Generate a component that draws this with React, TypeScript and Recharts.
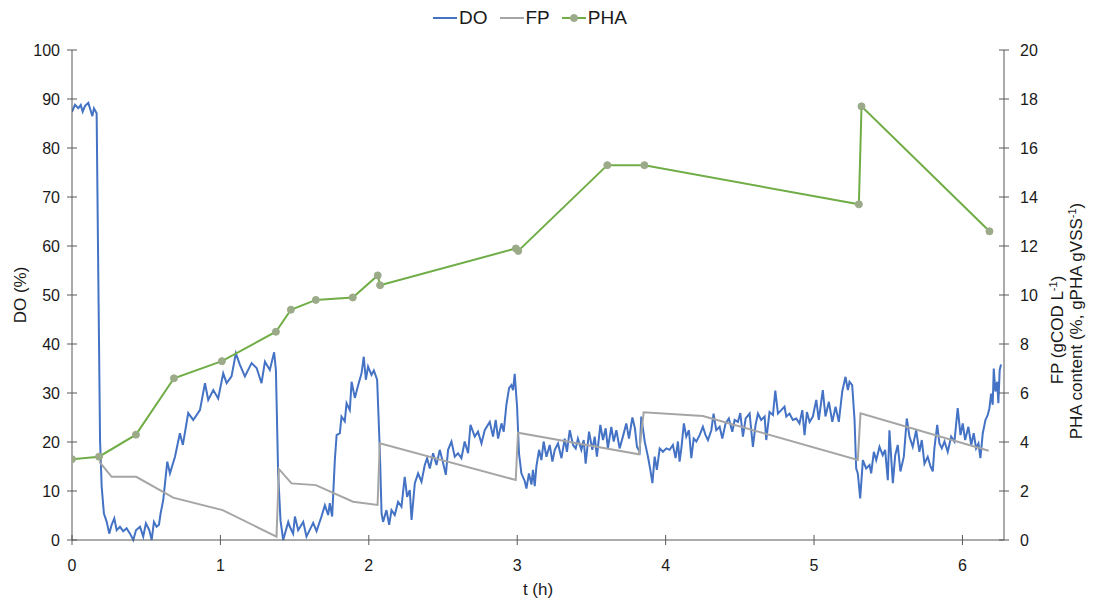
import { ComposedChart, Line, XAxis, YAxis } from "recharts";

// DO (%) readings: [t (h), DO]
const doReadings: [number, number][] = [
  [0, 87.4], [0.02, 88.8], [0.042, 88.1], [0.059, 88.8], [0.072, 87.4], [0.088, 88.6], [0.11, 89.2],
  [0.121, 88.1], [0.137, 86.5], [0.148, 88.1], [0.166, 87.1], [0.177, 54.5], [0.189, 20.4], [0.2, 10.9],
  [0.215, 5.4], [0.234, 3.7], [0.251, 1.3], [0.267, 3.1], [0.285, 4.4], [0.301, 2.0], [0.323, 2.7],
  [0.345, 1.8], [0.368, 2.4], [0.391, 1.3], [0.413, 0], [0.431, 2.0], [0.458, 2.7], [0.48, 0.7],
  [0.498, 3.4], [0.521, 2.0], [0.537, 0], [0.552, 3.7], [0.57, 2.7], [0.586, 3.1], [0.597, 5.4],
  [0.615, 8.2], [0.642, 16], [0.66, 13.6], [0.694, 17], [0.727, 21.8], [0.747, 19.4], [0.783, 25.9],
  [0.817, 24.5], [0.862, 26.5], [0.896, 32], [0.918, 28.6], [0.952, 30.6], [0.985, 28.9], [1.019, 34],
  [1.042, 32], [1.075, 33.4], [1.104, 38.1], [1.131, 35.8], [1.165, 33.4], [1.21, 36.1], [1.244, 35.1],
  [1.277, 32], [1.3, 36.4], [1.333, 34.7], [1.362, 38.3], [1.374, 34.7], [1.389, 13.6], [1.405, 4],
  [1.423, 0], [1.457, 3.7], [1.468, 2.7], [1.49, 1.3], [1.502, 4.8], [1.524, 2], [1.558, 3.7],
  [1.58, 0.7], [1.625, 3.5], [1.648, 1.8], [1.681, 4.8], [1.704, 7.1], [1.726, 5.1], [1.737, 7.5],
  [1.753, 4.8], [1.771, 16.3], [1.783, 21.4], [1.805, 21.8], [1.816, 25.2], [1.838, 24.2], [1.85, 27.9],
  [1.872, 26.5], [1.884, 32.3], [1.906, 29], [1.928, 31.6], [1.951, 34], [1.966, 37.4], [1.98, 32.7],
  [1.995, 35.4], [2.018, 33.7], [2.034, 34.6], [2.056, 32.7], [2.074, 18.4], [2.086, 5.4], [2.096, 3.7],
  [2.119, 6.1], [2.137, 3.1], [2.153, 6.1], [2.175, 5.1], [2.197, 7.8], [2.22, 6.8], [2.242, 12.9],
  [2.258, 8.8], [2.276, 10.2], [2.288, 4.1], [2.31, 11.6], [2.332, 13.6], [2.355, 11.9], [2.377, 15.3],
  [2.393, 16.7], [2.411, 14.6], [2.433, 17.7], [2.456, 15.3], [2.478, 18.4], [2.496, 16.3], [2.519, 13.3],
  [2.534, 18.4], [2.557, 20.1], [2.579, 17], [2.601, 17.7], [2.624, 16.7], [2.646, 20.1], [2.669, 17.7],
  [2.685, 23.5], [2.714, 21.1], [2.736, 22.1], [2.759, 19.7], [2.781, 22.4], [2.803, 23.5], [2.815, 24.1],
  [2.837, 21.1], [2.855, 24.5], [2.871, 20.7], [2.894, 23.8], [2.909, 22.1], [2.927, 27.6], [2.945, 31],
  [2.961, 31.6], [2.972, 30.6], [2.983, 33.9], [2.999, 27.2], [3.012, 17.7], [3.028, 13.6], [3.051, 12],
  [3.062, 10.5], [3.079, 13.6], [3.096, 11.3], [3.106, 14.3], [3.118, 11], [3.129, 15], [3.147, 18.4],
  [3.163, 16.3], [3.178, 20.1], [3.197, 17], [3.219, 19.4], [3.237, 16], [3.253, 18.4], [3.275, 19.7],
  [3.298, 16.7], [3.32, 20.7], [3.335, 18], [3.354, 22.4], [3.376, 19.4], [3.394, 18.7], [3.409, 20.7],
  [3.432, 18.4], [3.448, 20.4], [3.461, 15.6], [3.484, 22.1], [3.506, 18.4], [3.522, 21.1], [3.537, 17],
  [3.56, 23.5], [3.578, 20.4], [3.596, 22.8], [3.611, 18.7], [3.634, 23.1], [3.65, 20.1], [3.668, 22.4],
  [3.69, 18.7], [3.712, 21.1], [3.735, 23.8], [3.753, 20.7], [3.776, 25], [3.793, 22.8], [3.807, 19],
  [3.825, 18], [3.836, 25.2], [3.859, 20.1], [3.881, 17], [3.897, 14.3], [3.911, 11.6], [3.926, 17],
  [3.941, 14.3], [3.96, 18.7], [3.982, 18], [4.005, 18.7], [4.027, 18.4], [4.049, 19.4], [4.067, 16.7],
  [4.083, 20.1], [4.094, 16], [4.106, 18.7], [4.123, 23.8], [4.139, 21.1], [4.157, 22.4], [4.173, 16.7],
  [4.189, 20.7], [4.207, 20.1], [4.229, 21.4], [4.251, 23.1], [4.269, 21.4], [4.285, 20.4], [4.308, 22.4],
  [4.323, 25.8], [4.341, 22.4], [4.364, 23.1], [4.382, 20.7], [4.404, 23.8], [4.426, 24.8], [4.449, 22.1],
  [4.465, 24.5], [4.487, 24.1], [4.503, 25.9], [4.521, 21.1], [4.539, 24.8], [4.566, 25.8], [4.588, 19],
  [4.606, 23.5], [4.622, 25.8], [4.644, 24.5], [4.667, 25.2], [4.678, 20.4], [4.7, 26.1], [4.723, 25.5],
  [4.739, 30.5], [4.757, 25.8], [4.779, 26.5], [4.801, 27.2], [4.813, 25.2], [4.835, 25.8], [4.857, 24.5],
  [4.88, 24.8], [4.902, 23.8], [4.921, 26.5], [4.936, 21.4], [4.952, 26.1], [4.97, 24.1], [4.992, 25.2],
  [5.015, 28.6], [5.032, 24.5], [5.059, 30.6], [5.077, 25.2], [5.1, 28.2], [5.123, 24.1], [5.145, 27.2],
  [5.167, 24.1], [5.19, 30.3], [5.212, 33.3], [5.228, 30.6], [5.239, 32.3], [5.257, 31.6], [5.273, 24.5],
  [5.284, 14.6], [5.295, 13.6], [5.311, 8.5], [5.329, 16.3], [5.351, 14.6], [5.374, 15.3], [5.385, 13.6],
  [5.403, 18], [5.419, 16.3], [5.441, 19], [5.463, 17.3], [5.479, 18.4], [5.497, 12.2], [5.508, 22.4],
  [5.531, 11.6], [5.547, 17.3], [5.564, 19.4], [5.582, 14], [5.605, 17], [5.625, 24.8], [5.643, 21.1],
  [5.665, 19], [5.688, 22.4], [5.71, 18], [5.726, 20.4], [5.744, 15.6], [5.766, 17], [5.785, 15],
  [5.8, 14], [5.811, 18.7], [5.83, 23.5], [5.845, 19.7], [5.861, 18.7], [5.879, 20.1], [5.901, 18],
  [5.924, 21.1], [5.946, 20.1], [5.968, 26.9], [5.987, 21.4], [6.002, 23.8], [6.018, 20.4], [6.04, 23.1],
  [6.059, 19.4], [6.076, 21.8], [6.092, 18.7], [6.108, 19.7], [6.121, 16.7], [6.137, 21.8], [6.155, 24.5],
  [6.17, 25.5], [6.182, 26.9], [6.193, 29.9], [6.204, 27.6], [6.211, 35], [6.222, 30.3], [6.234, 32.3],
  [6.242, 27.9], [6.251, 34.7], [6.26, 35.8],
];

// FP (gCOD/L): [t, FP]
const fpReadings: [number, number][] = [
  [0.184, 3.2], [0.267, 2.58], [0.433, 2.58], [0.682, 1.73], [1.015, 1.22], [1.378, 0.14],
  [1.394, 2.9], [1.479, 2.31], [1.643, 2.24], [1.894, 1.56], [2.059, 1.43], [2.074, 3.95],
  [2.99, 2.45], [3.005, 4.38], [3.82, 3.5], [3.852, 5.21], [4.251, 5.06], [5.295, 3.27],
  [5.313, 5.17], [6.177, 3.64],
];

// PHA content (%): [t, PHA]
const phaReadings: [number, number][] = [
  [0, 3.3], [0.182, 3.4], [0.431, 4.3], [0.687, 6.6], [1.01, 7.3], [1.374, 8.5], [1.475, 9.4],
  [1.643, 9.8], [1.892, 9.9], [2.06, 10.8], [2.076, 10.4], [2.991, 11.9], [3.007, 11.8],
  [3.607, 15.3], [3.857, 15.3], [5.302, 13.7], [5.32, 17.7], [6.182, 12.6],
];

const xTicks = [0, 1, 2, 3, 4, 5, 6];
const doTicks = [0, 10, 20, 30, 40, 50, 60, 70, 80, 90, 100];
const rightTicks = [0, 2, 4, 6, 8, 10, 12, 14, 16, 18, 20];

const toRows = (arr: [number, number][]) => arr.map(([t, v]) => ({ t, v }));
const doData = toRows(doReadings);
const fpData = toRows(fpReadings);
const phaData = toRows(phaReadings);

const AX = "#595959";
const TXT = "#1a1a1a";
const FONT = "'Liberation Sans', Arial, sans-serif";
const BLUE = "#4472C4";
const GRAY = "#A5A5A5";
const GREEN = "#70AD47";
const MARK = "#9BAA88";

const LeftTick = ({ x, y, payload }: any) => (
  <g>
    <line x1={x + 7} x2={x + 17} y1={y} y2={y} stroke={AX} />
    <text x={x} y={y} dy={5.5} textAnchor="end" fontSize={16} fill={TXT} fontFamily={FONT}>
      {payload.value}
    </text>
  </g>
);

const RightTick = ({ x, y, payload }: any) => (
  <g>
    <line x1={x - 21} x2={x - 11} y1={y} y2={y} stroke={AX} />
    <text x={x} y={y} dy={5.5} textAnchor="start" fontSize={16} fill={TXT} fontFamily={FONT}>
      {payload.value}
    </text>
  </g>
);

const BottomTick = ({ x, y, payload }: any) => (
  <g>
    <line x1={x} x2={x} y1={y - 30} y2={y - 20} stroke={AX} />
    <text x={x} y={y} dy={6} textAnchor="middle" fontSize={16} fill={TXT} fontFamily={FONT}>
      {payload.value}
    </text>
  </g>
);

const Swatch = ({ color, marker }: { color: string; marker?: boolean }) => (
  <svg width={24} height={12} style={{ display: "block" }}>
    <line x1={0} x2={24} y1={6} y2={6} stroke={color} strokeWidth={2} />
    {marker && <circle cx={12} cy={6} r={3.5} fill={MARK} stroke={MARK} />}
  </svg>
);

const legendItems = [
  { name: "DO", color: BLUE, marker: false },
  { name: "FP", color: GRAY, marker: false },
  { name: "PHA", color: GREEN, marker: true },
];

export default function App() {
  const W = 1078;
  const H = 592;
  return (
    <div style={{ position: "relative", width: W, height: H, fontFamily: FONT }}>
      <div
        style={{
          position: "absolute",
          left: 425,
          top: 0,
          height: 20,
          display: "flex",
          alignItems: "center",
          fontSize: 19,
          color: TXT,
          zIndex: 1,
        }}
      >
        {legendItems.map((it) => (
          <div key={it.name} style={{ display: "flex", alignItems: "center", marginRight: 12 }}>
            <Swatch color={it.color} marker={it.marker} />
            <span style={{ marginLeft: 2 }}>{it.name}</span>
          </div>
        ))}
      </div>
      <ComposedChart width={W} height={H} margin={{ top: 42, right: 0, bottom: 0, left: 0 }}>
        <XAxis
          dataKey="t"
          type="number"
          domain={[0, 6.28]}
          ticks={xTicks}
          allowDataOverflow
          height={60}
          tickSize={0}
          tickMargin={25}
          tickLine={false}
          axisLine={{ stroke: AX }}
          tick={(p: any) => <BottomTick {...p} />}
          label={{
            content: () => (
              <text x={530} y={587} textAnchor="middle" fontSize={17} fill={TXT} fontFamily={FONT}>
                t (h)
              </text>
            ),
          }}
        />
        <YAxis
          yAxisId="do"
          domain={[0, 100]}
          ticks={doTicks}
          width={64}
          tickSize={0}
          tickMargin={12}
          tickLine={false}
          axisLine={{ stroke: AX }}
          tick={(p: any) => <LeftTick {...p} />}
          label={{
            content: () => (
              <text transform="translate(18,287) rotate(-90)" textAnchor="middle" fontSize={17} fill={TXT} fontFamily={FONT}>
                DO (%)
              </text>
            ),
          }}
        />
        <YAxis
          yAxisId="r"
          orientation="right"
          domain={[0, 20]}
          ticks={rightTicks}
          width={82}
          tickSize={0}
          tickMargin={16}
          tickLine={false}
          axisLine={{ stroke: AX }}
          tick={(p: any) => <RightTick {...p} />}
          label={{
            content: () => (
              <g fontSize={17} fill={TXT} fontFamily={FONT}>
                <text transform="translate(1055,322) rotate(-90)" textAnchor="middle">
                  FP (gCOD L<tspan dy={-6} fontSize={11}>-1</tspan>
                  <tspan dy={6}>)</tspan>
                </text>
                <text transform="translate(1074,313) rotate(-90)" textAnchor="middle">
                  PHA content (%, gPHA gVSS<tspan dy={-6} fontSize={11}>-1</tspan>
                  <tspan dy={6}>)</tspan>
                </text>
              </g>
            ),
          }}
        />
        <Line
          yAxisId="do"
          data={doData}
          dataKey="v"
          type="linear"
          stroke={BLUE}
          strokeWidth={2}
          dot={false}
          isAnimationActive={false}
        />
        <Line
          yAxisId="r"
          data={fpData}
          dataKey="v"
          type="linear"
          stroke={GRAY}
          strokeWidth={2}
          dot={false}
          isAnimationActive={false}
        />
        <Line
          yAxisId="r"
          data={phaData}
          dataKey="v"
          type="linear"
          stroke={GREEN}
          strokeWidth={2}
          dot={{ r: 3.5, fill: MARK, stroke: MARK, strokeWidth: 1 }}
          isAnimationActive={false}
        />
      </ComposedChart>
    </div>
  );
}
